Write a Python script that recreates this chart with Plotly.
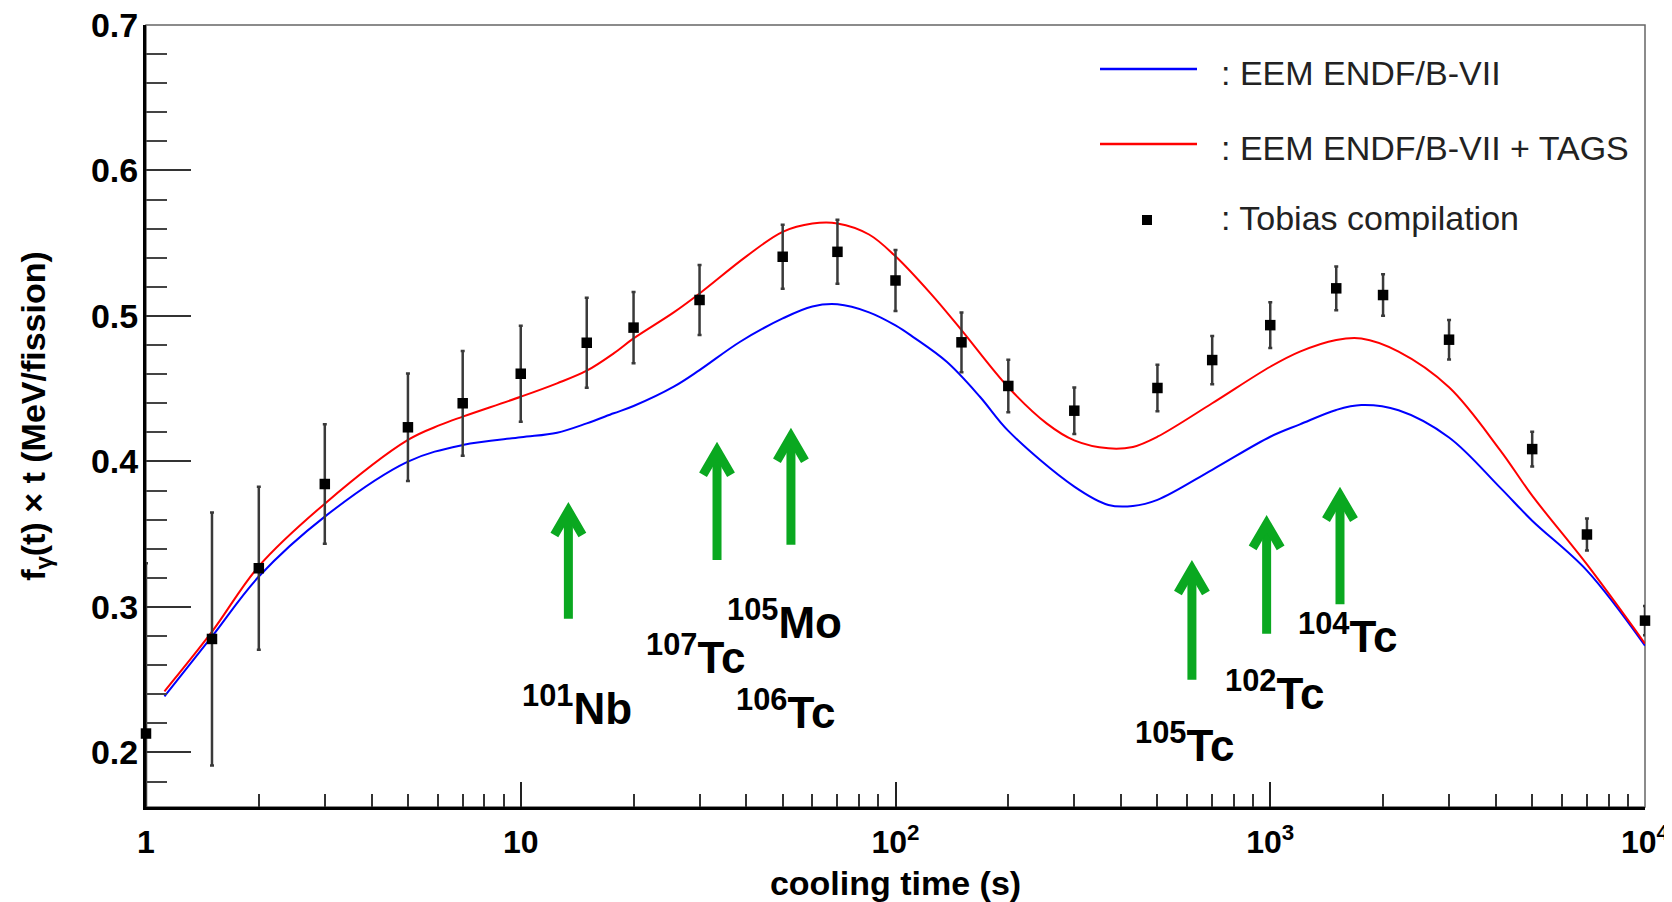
import math
import plotly.graph_objects as go

# ---------------- data ----------------
t_data = [1, 1.5, 2, 3, 5, 7, 10, 15, 20, 30, 50, 70, 100, 150, 200, 300,
          500, 700, 1000, 1500, 2000, 3000, 5000, 7000, 10000]
f_data = [0.213, 0.278, 0.3266, 0.3845, 0.4235, 0.440, 0.4603, 0.4816, 0.492,
          0.511, 0.5407, 0.5441, 0.5244, 0.4819, 0.4519, 0.4349, 0.4505,
          0.4697, 0.4937, 0.519, 0.5144, 0.4837, 0.4085, 0.3498, 0.2906]
f_err = [0.117, 0.087, 0.056, 0.041, 0.037, 0.036, 0.033, 0.031, 0.0245,
         0.024, 0.022, 0.022, 0.021, 0.0205, 0.018, 0.016, 0.016, 0.0166,
         0.0157, 0.015, 0.0143, 0.0136, 0.012, 0.011, 0.010]

t_eem = [1.12, 1.5, 2, 3, 5, 7, 10, 12.5, 15, 17.7, 20, 25.6, 30, 38.5, 50,
         60, 70, 85, 100, 111.5, 137, 168, 200, 300, 370, 430, 500, 700,
         1000, 1200, 1500, 1750, 2200, 3000, 4100, 5000, 7000, 10000]
f_eem = [0.2385, 0.2797, 0.3209, 0.3621, 0.3999, 0.4113, 0.4166, 0.4198,
         0.4262, 0.4331, 0.4381, 0.4514, 0.4628, 0.4823, 0.4983, 0.5065,
         0.508, 0.5025, 0.4935, 0.4855, 0.4685, 0.4445, 0.421, 0.3827,
         0.3701, 0.3694, 0.3736, 0.3943, 0.417, 0.4255, 0.4354, 0.4388,
         0.4352, 0.4165, 0.3822, 0.3593, 0.325, 0.2734]

t_tags = [1.12, 1.5, 2, 3, 5, 6.1, 7, 10, 12.5, 15, 17.7, 20, 25.6, 30, 40,
          50, 60, 70, 85, 100, 124, 150, 200, 253, 300, 370, 430, 500, 700,
          1000, 1200, 1500, 1750, 2200, 3000, 4100, 5000, 7000, 10000]
f_eem_tags = [0.242, 0.283, 0.328, 0.371, 0.4148, 0.4251, 0.4308, 0.4445,
              0.4537, 0.4624, 0.4743, 0.4846, 0.5025, 0.5155, 0.541, 0.5578,
              0.5635, 0.5636, 0.556, 0.541, 0.5155, 0.4903, 0.451, 0.4262,
              0.4145, 0.409, 0.410, 0.417, 0.440, 0.4651, 0.4755, 0.4835,
              0.4845, 0.4755, 0.451, 0.408, 0.3765, 0.3292, 0.2748]

x_tickvals = [1, 10, 100, 1000, 10000]
x_ticktext = ["1", "10", "10<sup>2</sup>", "10<sup>3</sup>", "10<sup>4</sup>"]
y_tickvals = [0.2, 0.3, 0.4, 0.5, 0.6, 0.7]
y_ticktext = ["0.2", "0.3", "0.4", "0.5", "0.6", "0.7"]

legend_names = [": EEM ENDF/B-VII", ": EEM ENDF/B-VII + TAGS", ": Tobias compilation"]

isotope_labels = ["<sup>101</sup>Nb", "<sup>107</sup>Tc", "<sup>105</sup>Mo",
                  "<sup>106</sup>Tc", "<sup>105</sup>Tc", "<sup>102</sup>Tc",
                  "<sup>104</sup>Tc"]

# ---------------- layout constants ----------------
# the page body has an 8px margin; the figure is sized to fit the window
OFF = 8
W, H = 1672 - OFF, 902 - OFF
PL, PR, PT, PB = 146, 1645, 25, 807          # plot area in window pixels
ML, MR, MT, MB = PL - OFF, W - (PR - OFF), PT - OFF, H - (PB - OFF)
PW, PH = PR - PL, PB - PT
Y_MIN, Y_MAX = 0.1625, 0.7
GREEN = "#0aa820"
FONT = "Liberation Sans, Arial, Helvetica, sans-serif"

PX_Y = (Y_MAX - Y_MIN) / PH
PX_LOGX = 4.0 / PW


def px(X):
    return (X - PL) / PW


def py(Y):
    return (PB - Y) / PH


fig = go.Figure()

fig.add_trace(go.Scatter(x=t_eem, y=f_eem, mode="lines",
                         line=dict(color="#0000ff", width=2, shape="spline", smoothing=1.0),
                         showlegend=False, hoverinfo="skip"))
fig.add_trace(go.Scatter(x=t_tags, y=f_eem_tags, mode="lines",
                         line=dict(color="#ff0000", width=2, shape="spline", smoothing=1.0),
                         showlegend=False, hoverinfo="skip"))
fig.add_trace(go.Scatter(x=t_data, y=f_data, mode="markers",
                         marker=dict(symbol="square", size=10.5, color="black"),
                         error_y=dict(type="data", array=f_err, color="#3a3a3a", thickness=2.5, width=2),
                         cliponaxis=False, showlegend=False))

shapes = []
# frame (top/right thin grey)
shapes.append(dict(type="rect", xref="paper", yref="paper", x0=0, x1=1, y0=0, y1=1,
                   line=dict(color="#666666", width=1.5), layer="below"))

# arrows: (t, value at bottom, value at tip)
arrows = [(13.4, 0.2919, 0.3722), (33.4, 0.3323, 0.4136), (52.6, 0.3427, 0.4232),
          (618, 0.2499, 0.3323), (978, 0.2815, 0.3633), (1535, 0.3019, 0.3827)]
fx = 10 ** (14 * PX_LOGX)
for t, v0, v1 in arrows:
    vert = v1 - 9 * PX_Y
    arm = vert - 24 * PX_Y
    shapes.append(dict(type="line", xref="x", yref="y", x0=t, x1=t, y0=v0, y1=vert,
                       line=dict(color=GREEN, width=9)))
    shapes.append(dict(type="path", xref="x", yref="y",
                       path=f"M {t / fx:.5f},{arm:.5f} L {t:.5f},{vert:.5f} L {t * fx:.5f},{arm:.5f}",
                       line=dict(color=GREEN, width=9)))

# legend samples
shapes.append(dict(type="line", xref="paper", yref="paper", x0=px(1100), x1=px(1197), y0=py(69), y1=py(69),
                   line=dict(color="#0000ff", width=2.5)))
shapes.append(dict(type="line", xref="paper", yref="paper", x0=px(1100), x1=px(1197), y0=py(144), y1=py(144),
                   line=dict(color="#ff0000", width=2.5)))
shapes.append(dict(type="rect", xref="paper", yref="paper", x0=px(1142), x1=px(1152), y0=py(225), y1=py(215),
                   fillcolor="black", line=dict(width=0)))

annotations = []
for name, Y in zip(legend_names, [73, 148, 218]):
    annotations.append(dict(text=name, xref="paper", yref="paper", x=px(1219), y=py(Y),
                            xanchor="left", yanchor="middle", showarrow=False,
                            font=dict(family=FONT, size=34, color="#222222")))

label_pos = [(577, 0.2324), (695, 0.2674), (784, 0.2915), (785, 0.2297),
             (1184, 0.2070), (1274, 0.2427), (1347.5, 0.2819)]
for lab, (X, v) in zip(isotope_labels, label_pos):
    annotations.append(dict(text=lab, xref="paper", yref="y", x=px(X), y=v,
                            xanchor="center", yanchor="middle", showarrow=False,
                            font=dict(family=FONT, size=44, color="black", weight="bold")))

fig.update_layout(
    width=W, height=H,
    margin=dict(l=ML, r=MR, t=MT, b=MB, pad=0),
    paper_bgcolor="white", plot_bgcolor="white",
    shapes=shapes, annotations=annotations,
    showlegend=False,
    xaxis=dict(type="log", range=[0, 4], showgrid=False, zeroline=False,
               showline=True, linecolor="black", linewidth=2.5,
               ticks="inside", ticklen=25, tickwidth=1.5, tickcolor="#222222",
               tickvals=x_tickvals, ticktext=x_ticktext,
               tickfont=dict(family=FONT, size=32, color="black", weight="bold"),
               ticklabelstandoff=5, ticklabeloverflow="allow",
               minor=dict(ticks="inside", ticklen=13, tickwidth=1.5, tickcolor="#333333", dtick="D1"),
               title=dict(text="cooling time (s)", standoff=13,
                          font=dict(family=FONT, size=34, color="black", weight="bold")),
               automargin=False),
    yaxis=dict(range=[Y_MIN, Y_MAX], showgrid=False, zeroline=False,
               showline=True, linecolor="black", linewidth=3,
               ticks="inside", ticklen=45, tickwidth=1.5, tickcolor="#333333",
               tickvals=y_tickvals, ticktext=y_ticktext,
               tickfont=dict(family=FONT, size=34, color="black", weight="bold"),
               ticklabelstandoff=-2, ticklabeloverflow="allow",
               minor=dict(ticks="inside", ticklen=21, tickwidth=1.5, tickcolor="#444444", dtick=0.02, tick0=0),
               title=dict(text="f<sub>\u03b3</sub>(t) \u00d7 t (MeV/fission)", standoff=36,
                          font=dict(family=FONT, size=34, color="black", weight="bold")),
               automargin=False),
)

fig.write_html("out.html")
